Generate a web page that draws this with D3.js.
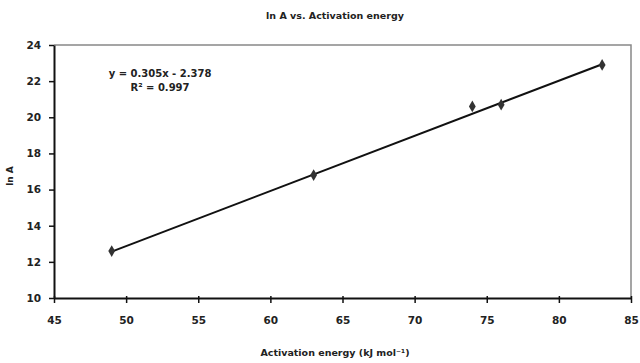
<!DOCTYPE html>
<html><head><meta charset="utf-8">
<script src="https://cdn.jsdelivr.net/npm/d3@7"></script>
<style>body{margin:0;background:#fff}svg{display:block}text{font-family:"DejaVu Sans",sans-serif;font-weight:bold;fill:#222}</style>
</head><body>
<script>
const energy = [49, 63, 74, 76, 83];
const lnA = [12.6, 16.8, 20.6, 20.7, 22.9];
const xTicks = [45, 50, 55, 60, 65, 70, 75, 80, 85];
const yTicks = [10, 12, 14, 16, 18, 20, 22, 24];
const slope = 0.305, intercept = -2.378;
const title = "ln A vs.  Activation energy";
const xTitle = "Activation energy (kJ mol\u207B\u00B9)";
const yTitle = "ln A";
const eqLines = ["y = 0.305x - 2.378", "R\u00B2 = 0.997"];

const W = 640, H = 363;
const m = {l: 54, r: 9, t: 45, b: 65};
const svg = d3.select("body").append("svg").attr("width", W).attr("height", H);
const x = d3.scaleLinear().domain([45, 85]).range([m.l, W - m.r]);
const y = d3.scaleLinear().domain([10, 24]).range([H - m.b, m.t]);

svg.append("path").attr("d", `M${x(45)},${y(24)}H${x(85)}V${y(10)}`)
  .attr("fill", "none").attr("stroke", "#888").attr("stroke-width", 1.5);

const gx = svg.append("g").attr("transform", `translate(0,${y(10)})`)
  .call(d3.axisBottom(x).tickValues(xTicks).tickSize(5).tickSizeOuter(0).tickPadding(14));
const gy = svg.append("g").attr("transform", `translate(${x(45)},0)`)
  .call(d3.axisLeft(y).tickValues(yTicks).tickSize(5).tickSizeOuter(0).tickPadding(8));
[gx, gy].forEach(g => {
  g.select(".domain").attr("stroke", "#111").attr("stroke-width", 2);
  g.selectAll(".tick line").attr("stroke", "#111").attr("stroke-width", 1.5);
  g.selectAll(".tick text").style("font-size", "10.5px").style("font-family", '"DejaVu Sans",sans-serif').style("font-weight", "bold").attr("fill", "#222");
});
gx.selectAll(".tick line").attr("y1", -2);

const xs = d3.extent(energy);
svg.append("line")
  .attr("x1", x(xs[0])).attr("y1", y(slope * xs[0] + intercept))
  .attr("x2", x(xs[1])).attr("y2", y(slope * xs[1] + intercept))
  .attr("stroke", "#111").attr("stroke-width", 2);

svg.selectAll("path.pt").data(energy).join("path").attr("class", "pt")
  .attr("d", d3.symbol().type(d3.symbolDiamond).size(40))
  .attr("transform", (d, i) => `translate(${x(d)},${y(lnA[i])})`)
  .attr("fill", "#333");

svg.append("text").attr("x", 335).attr("y", 19).attr("text-anchor", "middle")
  .style("font-size", "9.5px").text(title);
svg.append("text").attr("x", 335).attr("y", 356).attr("text-anchor", "middle")
  .style("font-size", "9.5px").text(xTitle);
svg.append("text").attr("transform", "translate(13,176) rotate(-90)").attr("text-anchor", "middle")
  .style("font-size", "9px").text(yTitle);
svg.append("text").attr("x", 160).attr("y", 77).attr("text-anchor", "middle")
  .style("font-size", "10px").text(eqLines[0]);
svg.append("text").attr("x", 160).attr("y", 91).attr("text-anchor", "middle")
  .style("font-size", "10px").text(eqLines[1]);
</script>
</body></html>
